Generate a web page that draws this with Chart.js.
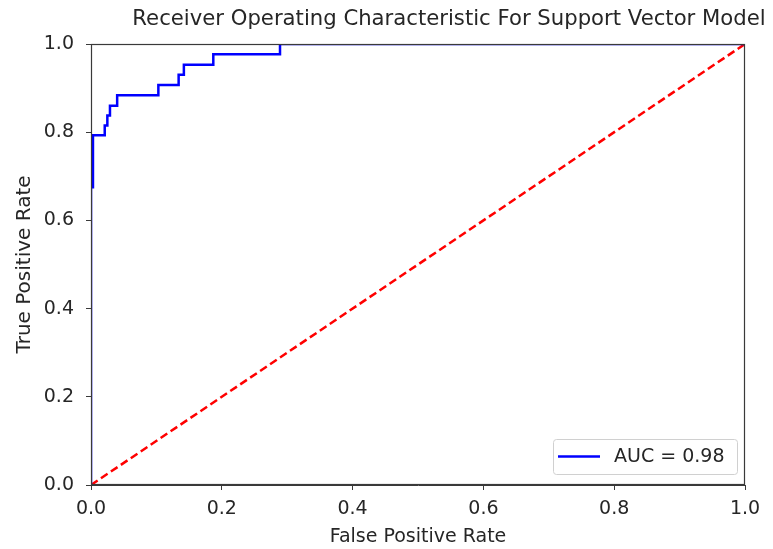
<!DOCTYPE html>
<html>
<head>
<meta charset="utf-8">
<script src="https://cdn.jsdelivr.net/npm/chart.js@4/dist/chart.umd.min.js"></script>
<style>
  html, body { margin: 0; padding: 0; background: #fff; }
  canvas { display: block; }
</style>
</head>
<body>
<canvas id="roc" width="773" height="549"></canvas>
<script>
// Данные ROC-кривой, ступенчатая линия
const fpr = [0.0, 0.0, 0.003, 0.003, 0.021, 0.021, 0.025, 0.025, 0.029, 0.029, 0.040, 0.040, 0.103, 0.103, 0.134, 0.134, 0.142, 0.142, 0.187, 0.187, 0.289, 0.289, 1.0];
const tpr = [0.0, 0.675, 0.675, 0.793, 0.793, 0.815, 0.815, 0.838, 0.838, 0.860, 0.860, 0.884, 0.884, 0.907, 0.907, 0.930, 0.930, 0.953, 0.953, 0.977, 0.977, 1.0, 1.0];
const diagX = [0, 1];
const diagY = [0, 1];
const tickValues = [0, 0.2, 0.4, 0.6, 0.8, 1.0];
const chartTitle = 'Receiver Operating Characteristic For Support Vector Model';
const aucLabel = 'AUC = 0.98';

const FONT = 'DejaVu Sans';
const TEXT = '#262626';
const SPINE = '#3a3a3a';

// Заголовок, рамка и легенда
const framePlugin = {
    id: 'frame',
    afterDraw(chart) {
        const { ctx, chartArea: a } = chart;
        ctx.save();
        ctx.strokeStyle = SPINE;
        ctx.lineWidth = 1.2;
        ctx.strokeRect(a.left + 0.5, a.top + 0.5, a.right - a.left - 1, a.bottom - a.top - 1);

        // заголовок
        ctx.fillStyle = TEXT;
        ctx.font = '21.2px ' + FONT;
        ctx.textAlign = 'center';
        ctx.textBaseline = 'middle';
        ctx.fillText(chartTitle, 449, 19);

        // легенда
        const w = 184, h = 35;
        const x = a.right - w - 8, y = a.bottom - h - 11;
        ctx.fillStyle = 'rgba(255,255,255,0.8)';
        ctx.strokeStyle = '#d0d0d0';
        ctx.lineWidth = 1;
        ctx.beginPath();
        ctx.roundRect(x + 0.5, y + 0.5, w, h, 3);
        ctx.fill();
        ctx.stroke();
        ctx.strokeStyle = '#0000ff';
        ctx.lineWidth = 2.5;
        ctx.beginPath();
        ctx.moveTo(x + 5, y + h / 2);
        ctx.lineTo(x + 47, y + h / 2);
        ctx.stroke();
        ctx.fillStyle = TEXT;
        ctx.font = '19px ' + FONT;
        ctx.textAlign = 'left';
        ctx.fillText(aucLabel, x + 61, y + h / 2 + 1);
        ctx.restore();
    }
};

const axisCommon = {
    type: 'linear',
    min: 0,
    max: 1,
    afterBuildTicks(axis) {
        axis.ticks = tickValues.map(v => ({ value: v }));
    },
    ticks: {
        color: TEXT,
        font: { family: FONT, size: 19 },
        padding: 12,
        callback: v => v.toFixed(1)
    },
    grid: {
        drawOnChartArea: false,
        drawTicks: true,
        tickLength: 5,
        color: SPINE
    },
    border: { display: true, color: SPINE }
};

new Chart(document.getElementById('roc').getContext('2d'), {
    type: 'scatter',
    data: {
        datasets: [
            {
                label: aucLabel,
                data: fpr.map((x, i) => ({ x: x, y: tpr[i] })),
                showLine: true,
                borderColor: '#0000ff',
                borderWidth: 2.5,
                pointRadius: 0,
                tension: 0
            },
            {
                label: 'diag',
                data: diagX.map((x, i) => ({ x: x, y: diagY[i] })),
                showLine: true,
                borderColor: '#ff0000',
                borderWidth: 2.5,
                borderDash: [8, 4],
                pointRadius: 0
            }
        ]
    },
    options: {
        responsive: false,
        animation: false,
        layout: { padding: { left: 0, right: 28, top: 44, bottom: 0 } },
        plugins: {
            legend: { display: false },
            tooltip: { enabled: false },
            title: { display: false }
        },
        scales: {
            x: {
                ...axisCommon,
                ticks: { ...axisCommon.ticks, padding: 8 },
                afterFit(axis) { axis.height = 64; },
                title: {
                    display: true,
                    text: 'False Positive Rate',
                    color: TEXT,
                    font: { family: FONT, size: 19 },
                    padding: { top: 0, bottom: 1 }
                }
            },
            y: {
                ...axisCommon,
                afterFit(axis) { axis.width = 91; },
                title: {
                    display: true,
                    text: 'True Positive Rate',
                    color: TEXT,
                    font: { family: FONT, size: 20 },
                    padding: { top: 13, bottom: 0 }
                }
            }
        }
    },
    plugins: [framePlugin]
});
</script>
</body>
</html>
